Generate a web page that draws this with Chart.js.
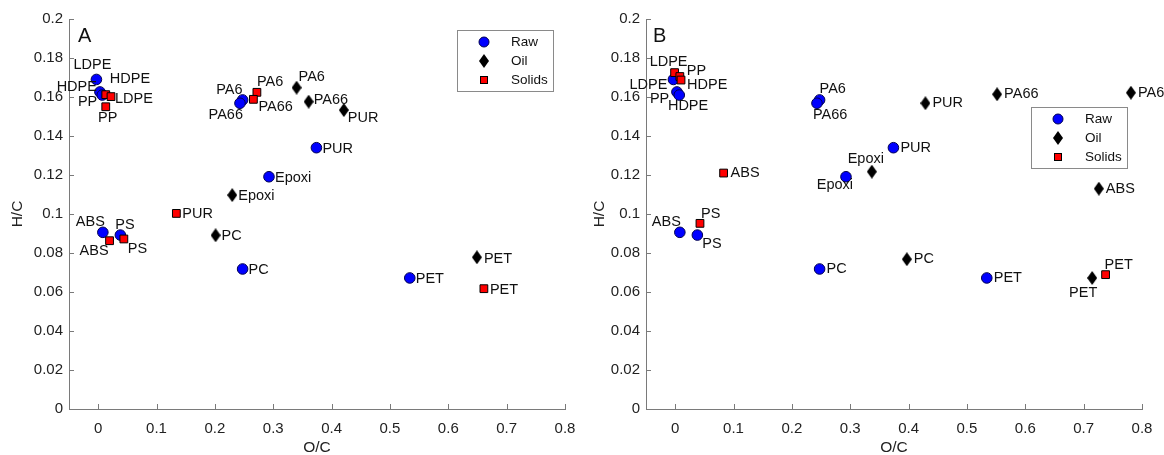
<!DOCTYPE html>
<html>
<head>
<meta charset="utf-8">
<script src="https://cdn.jsdelivr.net/npm/chart.js"></script>
<style>
html, body { margin: 0; padding: 0; background: #fff; }
#wrap { position: relative; width: 1164px; height: 455px; overflow: hidden; }
.panel { position: absolute; top: 0; width: 582px; height: 455px; }
</style>
</head>
<body>
<div id="wrap">
  <div class="panel" style="left:0"><canvas id="chartA" width="582" height="455"></canvas></div>
  <div class="panel" style="left:582px"><canvas id="chartB" width="582" height="455"></canvas></div>
</div>
<script>
// raw polymers (same in both panels)
const rawNames = ['LDPE', 'HDPE', 'PP', 'PA6', 'PA66', 'PUR', 'Epoxi', 'PC', 'PET', 'ABS', 'PS'];
const rawX = [-0.003, 0.003, 0.007, 0.2475, 0.243, 0.374, 0.2927, 0.2475, 0.534, 0.008, 0.038];
const rawY = [0.169, 0.1626, 0.161, 0.1585, 0.1568, 0.134, 0.1191, 0.0718, 0.0672, 0.0906, 0.0892];

// panel A
const oilNamesA = ['PA6', 'PA66', 'PUR', 'Epoxi', 'PC', 'PET'];
const oilXA = [0.340, 0.3607, 0.421, 0.2297, 0.2012, 0.649];
const oilYA = [0.1648, 0.1576, 0.1533, 0.1097, 0.0891, 0.0778];
const solidNamesA = ['HDPE', 'LDPE', 'PP', 'PA6', 'PA66', 'PUR', 'ABS', 'PS', 'PET'];
const solidXA = [0.013, 0.022, 0.013, 0.272, 0.266, 0.134, 0.0195, 0.044, 0.661];
const solidYA = [0.1612, 0.1602, 0.155, 0.1624, 0.1588, 0.1003, 0.0863, 0.0872, 0.0617];

// panel B
const oilNamesB = ['Epoxi', 'PUR', 'PA66', 'PA6', 'ABS', 'PC', 'PET'];
const oilXB = [0.337, 0.4288, 0.5517, 0.781, 0.726, 0.397, 0.7146];
const oilYB = [0.1217, 0.1568, 0.1614, 0.1622, 0.113, 0.0768, 0.0672];
const solidNamesB = ['LDPE', 'PP', 'HDPE', 'ABS', 'PS', 'PET'];
const solidXB = [-0.001, 0.008, 0.010, 0.083, 0.0425, 0.7376];
const solidYB = [0.1725, 0.1705, 0.1687, 0.121, 0.0952, 0.0689];

const xTickValues = [0, 0.1, 0.2, 0.3, 0.4, 0.5, 0.6, 0.7, 0.8];
const xTickLabels = ['0', '0.1', '0.2', '0.3', '0.4', '0.5', '0.6', '0.7', '0.8'];
const yTickValues = [0, 0.02, 0.04, 0.06, 0.08, 0.1, 0.12, 0.14, 0.16, 0.18, 0.2];
const yTickLabels = ['0', '0.02', '0.04', '0.06', '0.08', '0.1', '0.12', '0.14', '0.16', '0.18', '0.2'];
const seriesNames = ['Raw', 'Oil', 'Solids'];

// label placement next to each marker: [dx, dy, align]
const rawPlaceA = [[-4,-14,'center'],[-3,-5,'right'],[-5,7,'right'],[0,-10,'right'],[3,12,'right'],
  [6,1,'left'],[6,1,'left'],[6,1,'left'],[6,1,'left'],[2,-10,'right'],[-5,-10,'left']];
const oilPlaceA = [[2,-11,'left'],[5,-2,'left'],[4,8,'left'],[6,1,'left'],[6,1,'left'],[7,2,'left']];
const solidPlaceA = [[4,-16,'left'],[4,2,'left'],[2,11,'center'],[0,-10,'left'],[5,8,'left'],
  [6,1,'left'],[-1,10,'right'],[4,10,'left'],[6,1,'left']];
const rawPlaceB = [[-6,6,'right'],[-9,14,'left'],[-10,4,'right'],[0,-11,'left'],[-4,12,'left'],
  [7,0,'left'],[7,8,'right'],[7,0,'left'],[7,0,'left'],[1,-10,'right'],[5,9,'left']];
const oilPlaceB = [[-6,-13,'center'],[7,0,'left'],[7,0,'left'],[7,0,'left'],[7,0,'left'],[7,0,'left'],[-9,15,'center']];
const solidPlaceB = [[-6,-11,'center'],[7,-6,'left'],[6,5,'left'],[7,0,'left'],[1,-9,'left'],[-1,-10,'left']];

const FONT = "'Liberation Sans', Arial, sans-serif";
const AXIS = '#7a7a7a';
const TEXT = '#222';

// diamond marker as an image
const diamond = document.createElement('canvas');
diamond.width = 10; diamond.height = 14;
(function() {
    const c = diamond.getContext('2d');
    c.beginPath();
    c.moveTo(5, 0); c.lineTo(10, 7); c.lineTo(5, 14); c.lineTo(0, 7); c.closePath();
    c.fillStyle = '#000'; c.fill();
})();

const pts = (xs, ys) => xs.map((x, i) => ({x: x, y: ys[i]}));

const pointLabels = {
    id: 'pointLabels',
    afterDatasetsDraw(chart) {
        const ctx = chart.ctx;
        ctx.save();
        ctx.font = '14.5px ' + FONT;
        ctx.fillStyle = '#111';
        ctx.textBaseline = 'middle';
        chart.data.datasets.forEach((ds, di) => {
            const meta = chart.getDatasetMeta(di);
            meta.data.forEach((el, i) => {
                const p = ds.place[i];
                ctx.textAlign = p[2];
                ctx.fillText(ds.names[i], el.x + p[0], el.y + p[1]);
            });
        });
        ctx.restore();
    }
};

const axisDecor = {
    id: 'axisDecor',
    afterDraw(chart, args, opts) {
        const ctx = chart.ctx;
        const a = chart.chartArea;
        const xs = chart.scales.x, ys = chart.scales.y;
        ctx.save();
        ctx.strokeStyle = AXIS;
        ctx.lineWidth = 1;
        ctx.beginPath();
        xTickValues.forEach(v => {
            const px = Math.round(xs.getPixelForValue(v)) + 0.5;
            ctx.moveTo(px, a.bottom); ctx.lineTo(px, a.bottom - 5);
        });
        yTickValues.forEach(v => {
            const py = Math.round(ys.getPixelForValue(v)) + 0.5;
            ctx.moveTo(a.left, py); ctx.lineTo(a.left + 5, py);
        });
        ctx.stroke();

        // panel letter
        ctx.fillStyle = '#111';
        ctx.font = '20px ' + FONT;
        ctx.textAlign = 'left';
        ctx.textBaseline = 'alphabetic';
        ctx.fillText(opts.letter, a.left + opts.letterDx, a.top + 23);

        // legend
        const w = 96, h = 61;
        const bx = a.right - opts.legendRight - w, by = a.top + opts.legendTop;
        ctx.fillStyle = '#fff';
        ctx.fillRect(bx, by, w, h);
        ctx.strokeStyle = '#8a8a8a';
        ctx.strokeRect(Math.round(bx) + 0.5, Math.round(by) + 0.5, w, h);
        const rows = [12, 31, 50];
        ctx.font = '13.5px ' + FONT;
        ctx.textBaseline = 'middle';
        seriesNames.forEach((name, i) => {
            const mx = bx + 27, my = by + rows[i];
            if (i === 0) {
                ctx.beginPath(); ctx.arc(mx, my, 5, 0, Math.PI * 2);
                ctx.fillStyle = '#0000ff'; ctx.fill();
                ctx.strokeStyle = '#000050'; ctx.stroke();
            } else if (i === 1) {
                ctx.drawImage(diamond, mx - 5, my - 7);
            } else {
                ctx.fillStyle = '#ff0000';
                ctx.fillRect(mx - 3.5, my - 3.5, 7, 7);
                ctx.strokeStyle = '#000'; ctx.strokeRect(mx - 3.5, my - 3.5, 7, 7);
            }
            ctx.fillStyle = '#111';
            ctx.fillText(name, bx + 54, my);
        });
        ctx.restore();
    }
};

function makeChart(id, raw, oil, solid, cfg) {
    const datasets = [
        { label: 'Solids', data: solid.data, names: solid.names, place: solid.place,
          pointStyle: 'rect', pointRadius: 5.5, backgroundColor: '#ff0000', borderColor: '#000', borderWidth: 1 },
        { label: 'Oil', data: oil.data, names: oil.names, place: oil.place,
          pointStyle: diamond, pointRadius: 7, backgroundColor: '#000', borderColor: '#000' },
        { label: 'Raw', data: raw.data, names: raw.names, place: raw.place,
          pointStyle: 'circle', pointRadius: 5.3, backgroundColor: '#0000ff', borderColor: '#000050', borderWidth: 1 }
    ];
    return new Chart(document.getElementById(id), {
        type: 'scatter',
        data: { datasets: datasets },
        options: {
            responsive: false,
            animation: false,
            events: [],
            layout: { autoPadding: false, padding: { left: 0, top: 19, right: cfg.padRight, bottom: 0 } },
            plugins: {
                legend: { display: false },
                tooltip: { enabled: false },
                axisDecor: { letter: cfg.letter, letterDx: cfg.letterDx, legendRight: cfg.legendRight, legendTop: cfg.legendTop }
            },
            scales: {
                x: {
                    type: 'linear', min: -0.05, max: 0.8,
                    afterBuildTicks: s => { s.ticks = xTickValues.map(v => ({value: v})); },
                    afterFit: s => { s.height = 46; s.paddingLeft = 0; s.paddingRight = 0; },
                    grid: { display: false, drawTicks: false },
                    border: { display: true, color: AXIS, width: 1 },
                    ticks: { padding: 11, color: TEXT, font: { family: FONT, size: 15 },
                             maxRotation: 0, autoSkip: false,
                             callback: (v, i) => xTickLabels[i] },
                    title: { display: true, text: 'O/C', color: TEXT, font: { family: FONT, size: 15.5, lineHeight: 1 },
                             padding: { top: 0, bottom: 0 } }
                },
                y: {
                    type: 'linear', min: 0, max: 0.2,
                    afterBuildTicks: s => { s.ticks = yTickValues.map(v => ({value: v})); },
                    afterFit: s => { s.width = cfg.yWidth; s.paddingTop = 0; s.paddingBottom = 0; },
                    grid: { display: false, drawTicks: false },
                    border: { display: true, color: AXIS, width: 1 },
                    ticks: { padding: 6, color: TEXT, font: { family: FONT, size: 15 }, autoSkip: false,
                             callback: (v, i) => yTickLabels[i] },
                    title: { display: true, text: 'H/C', color: TEXT, font: { family: FONT, size: 15.5, lineHeight: 1 },
                             padding: { top: 9.5, bottom: 0 } }
                }
            }
        },
        plugins: [pointLabels, axisDecor]
    });
}

makeChart('chartA',
    { data: pts(rawX, rawY), names: rawNames, place: rawPlaceA },
    { data: pts(oilXA, oilYA), names: oilNamesA, place: oilPlaceA },
    { data: pts(solidXA, solidYA), names: solidNamesA, place: solidPlaceA },
    { yWidth: 69, padRight: 17, letter: 'A', letterDx: 9, legendRight: 12, legendTop: 11 });

makeChart('chartB',
    { data: pts(rawX, rawY), names: rawNames, place: rawPlaceB },
    { data: pts(oilXB, oilYB), names: oilNamesB, place: oilPlaceB },
    { data: pts(solidXB, solidYB), names: solidNamesB, place: solidPlaceB },
    { yWidth: 64, padRight: 22, letter: 'B', letterDx: 7, legendRight: 15, legendTop: 88 });
</script>
</body>
</html>
